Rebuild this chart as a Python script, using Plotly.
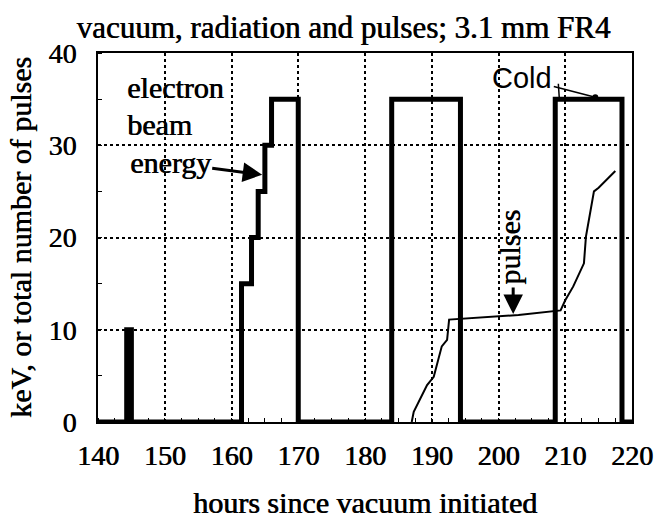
import plotly.graph_objects as go

# Electron beam energy (step line, keV)
energy_hours = [140, 144.3, 145, 161.5, 163, 164, 165, 166, 170, 184, 194.3, 208.5, 218.5, 220]
energy_kev = [0, 10, 0, 15, 20, 25, 30, 35, 0, 35, 0, 35, 0, 0]

# Total number of pulses
pulse_hours = [187.0, 187.3, 189.3, 190.3, 191.5, 192.3, 192.6, 197.3, 203.0, 209.3,
               210.0, 211.2, 212.8, 213.1, 214.3, 215.0, 217.5]
pulse_count = [0, 1.1, 4.0, 4.9, 8.2, 8.9, 11.1, 11.3, 11.6, 12.1,
               13.2, 14.7, 17.2, 20.1, 25.0, 25.4, 27.2]

x_ticks = [140, 150, 160, 170, 180, 190, 200, 210, 220]
y_ticks = [0, 10, 20, 30, 40]

SERIF = "Liberation Serif"
SANS = "Liberation Sans"
FS = 30
SH = "0.7px 0px 0px black"


def sfont(size=FS):
    return dict(family=SERIF, size=size, color="black", shadow=SH)


fig = go.Figure()
fig.add_trace(go.Scatter(x=energy_hours, y=energy_kev, mode="lines",
                         line=dict(color="black", width=5, shape="hv"),
                         showlegend=False, hoverinfo="skip"))
fig.add_trace(go.Scatter(x=pulse_hours, y=pulse_count, mode="lines",
                         line=dict(color="black", width=2),
                         showlegend=False, hoverinfo="skip"))

axis_common = dict(showline=True, linecolor="black", linewidth=2, mirror=True,
                   showgrid=True, gridcolor="black", gridwidth=1.5, griddash="dot",
                   zeroline=False, ticks="", tickfont=sfont(28), automargin=False,
                   ticklabeloverflow="allow")

fig.update_xaxes(range=[140, 220], tickvals=x_ticks, ticktext=[str(v) for v in x_ticks],
                 ticklabelstandoff=7,
                 title=dict(text="hours since vacuum initiated", font=sfont(), standoff=30),
                 minor=dict(ticks="inside", ticklen=4, tickcolor="black", dtick=2.5, showgrid=False),
                 **axis_common)
fig.update_yaxes(range=[0, 40], tickvals=y_ticks, ticktext=[str(v) for v in y_ticks],
                 ticklabelstandoff=14,
                 title=dict(text="keV, or total number of pulses", font=sfont(), standoff=8),
                 minor=dict(ticks="inside", ticklen=4, tickcolor="black", dtick=5, showgrid=False),
                 **axis_common)

fig.add_annotation(x=144.0, y=36.3, text="electron", showarrow=False, xanchor="left",
                   yanchor="middle", font=sfont())
fig.add_annotation(x=144.0, y=32.3, text="beam", showarrow=False, xanchor="left",
                   yanchor="middle", font=sfont())
fig.add_annotation(x=164.6, y=26.8, text="energy", showarrow=True, arrowhead=2, arrowsize=1.3,
                   arrowwidth=3, arrowcolor="black", ax=-92, ay=-12, font=sfont())
fig.add_annotation(x=201.6, y=18.9, text="pulses", textangle=-90, showarrow=False,
                   xanchor="center", yanchor="middle", font=sfont())
fig.add_annotation(x=202.2, y=11.7, text="", showarrow=True, arrowhead=2,
                   arrowsize=1.3, arrowwidth=3, arrowcolor="black", ax=0, ay=-28)
fig.add_annotation(x=214.5, y=35.2, text="Cold", showarrow=True, arrowhead=6, arrowsize=1,
                   arrowwidth=1.5, arrowcolor="black", ax=-73, ay=-19,
                   font=dict(family=SANS, size=29, color="black"))
fig.add_annotation(x=209.1, y=35.2, text="", showarrow=True, arrowhead=0,
                   arrowwidth=1.5, arrowcolor="black", ax=-1, ay=-15)

fig.update_layout(
    width=654, height=519,
    margin=dict(l=98, r=22, t=53, b=97),
    paper_bgcolor="white", plot_bgcolor="white",
    title=dict(text="vacuum, radiation and pulses; 3.1 mm FR4", x=0.525, xanchor="center",
               y=0.948, yanchor="middle", font=sfont(31)),
)

fig.write_html("out.html", config={"displayModeBar": False},
               post_script="document.body.style.margin='0px';")
